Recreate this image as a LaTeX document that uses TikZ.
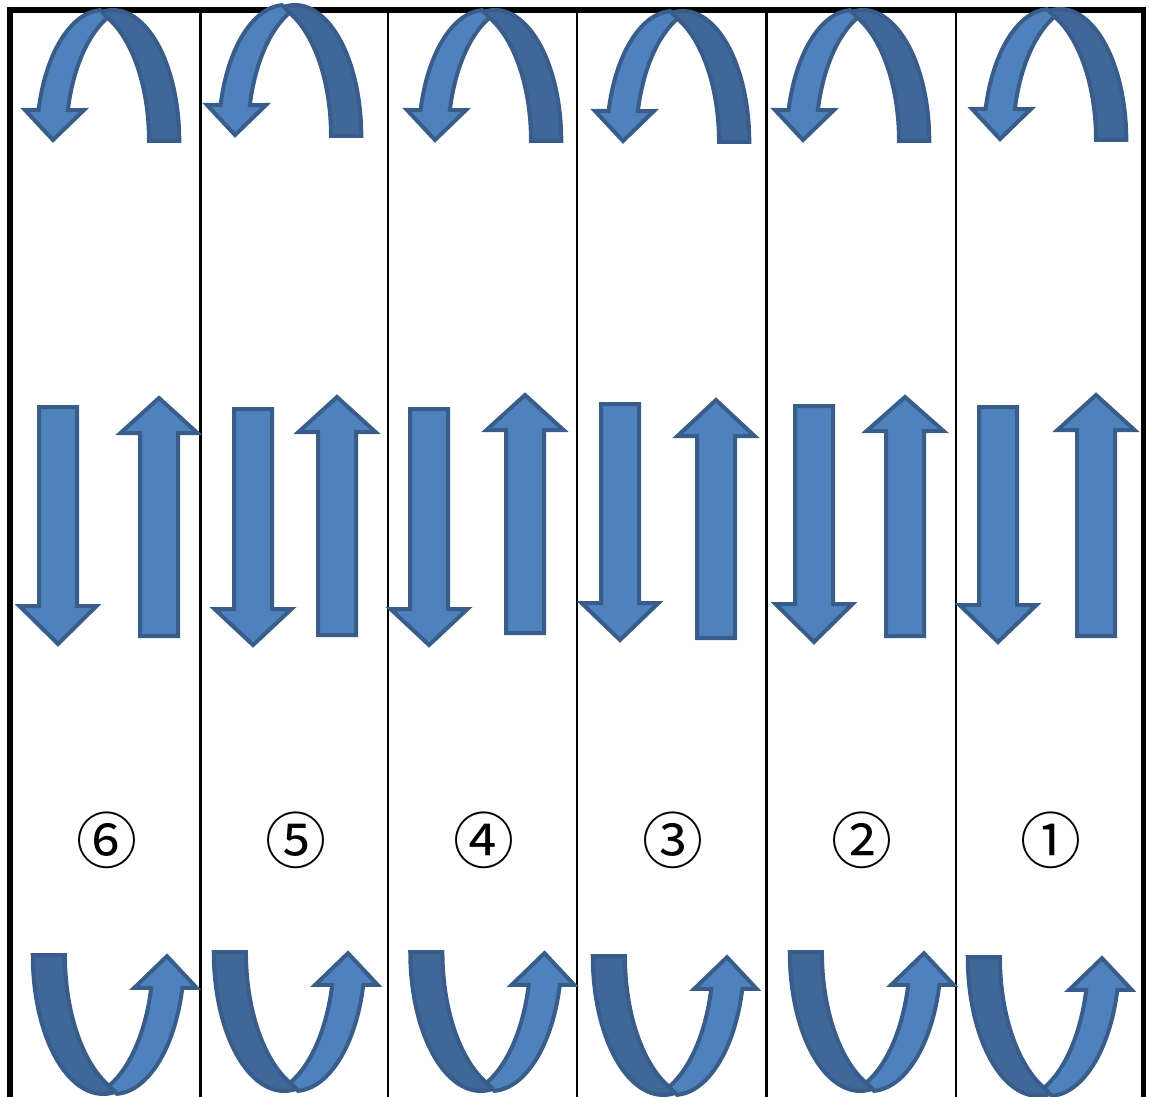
\documentclass[tikz,border=0pt]{standalone}
\usepackage{fontspec}
\newfontfamily\cjk{Noto Sans CJK JP}
\definecolor{lightblue}{HTML}{4F81BD}
\definecolor{darkblue}{HTML}{3F6797}
\definecolor{edgeblue}{HTML}{385D8A}
\tikzset{
  frameline/.style={line width=5.5, black},
  colline/.style={line width=2.2, black},
  straightarrow/.style={fill=lightblue, draw=edgeblue, line width=4, line join=miter},
  lightband/.style={fill=lightblue, draw=edgeblue, line width=4, line join=miter},
  darkband/.style={fill=darkblue, draw=edgeblue, line width=4, line join=miter},
  num/.style={font=\cjk\fontsize{61}{61}\selectfont, inner sep=0pt, text=black},
  topturn/.pic={
    % back (dark) band: outer ellipse B, inner ellipse B'
    \filldraw[darkband] ([shift={(60,2)}]0:66.3 and 131)
      arc[start angle=0, end angle=101.3, x radius=66.3, y radius=131]
      -- ([shift={(26,2)}]65.98:70 and 135)
      arc[start angle=65.98, end angle=0, x radius=70, y radius=135] -- cycle;
    % front (light) band with head: outer ellipse A, inner ellipse A'
    \filldraw[lightband] (-28,33) -- ([shift={(50,2)}]166.31:66.3 and 131)
      arc[start angle=166.31, end angle=92.6, x radius=66.3, y radius=131]
      -- ([shift={(83,2)}]114.02:70 and 135)
      arc[start angle=114.02, end angle=166.73, x radius=70, y radius=135]
      -- (31,33) -- (0,3) -- cycle;
  }
}
% cx, top, base, tip  (pixel coordinates, y downwards)
\newcommand\DownArr[4]{%
  \filldraw[straightarrow] (#1-19,-#2-2) -- (#1+19,-#2-2) -- (#1+19,-#3-2) -- (#1+38.5,-#3-2)
    -- (#1,-#4+3) -- (#1-38.5,-#3-2) -- (#1-19,-#3-2) -- cycle;}
% cx, tip, base, bottom
\newcommand\UpArr[4]{%
  \filldraw[straightarrow] (#1,-#2-3) -- (#1+38.5,-#3+2) -- (#1+19,-#3+2) -- (#1+19,-#4+2)
    -- (#1-19,-#4+2) -- (#1-19,-#3+2) -- (#1-38.5,-#3+2) -- cycle;}
\begin{document}
\begin{tikzpicture}[x=1pt, y=1pt]
\useasboundingbox (0,0) rectangle (1149,-1097);
% frame
\draw[frameline, line join=miter] (10,-1097) -- (10,-10) -- (1143.5,-10) -- (1143.5,-1097);
\foreach \cx in {200.5,388,577,766.5,956}
  \draw[colline] (\cx,-10) -- (\cx,-1097);
% top U-turn arrows
\pic at (53,-143) {topturn};
\pic at (235,-138) {topturn};
\pic at (435,-143) {topturn};
\pic at (623,-144) {topturn};
\pic at (803,-143) {topturn};
\pic at (1000,-142) {topturn};
% straight arrows
\DownArr{58}{405}{604}{647}   \UpArr{159}{395}{435}{638}
\DownArr{253}{407}{607}{648}  \UpArr{337}{394}{434}{637}
\DownArr{429}{407}{607}{648}  \UpArr{525}{392}{432}{635}
\DownArr{620}{402}{601}{643}  \UpArr{716}{397}{438}{640}
\DownArr{814}{404}{602}{645}  \UpArr{905}{394}{433}{638}
\DownArr{998}{405}{603}{645}  \UpArr{1096}{392}{432}{638}
% numbers
\node[num] (n6) at (106.5,-840) {⑥};
\node[num] (n5) at (295.5,-840) {⑤};
\node[num] (n4) at (484,-840) {④};
\node[num] (n3) at (673,-840) {③};
\node[num] (n2) at (862,-840) {②};
\node[num] (n1) at (1051,-840) {①};
% bottom U-turn arrows
\pic[rotate=180, xscale=1.063, yscale=1.06] at (167,-953) {topturn};
\pic[rotate=180, xscale=1.063, yscale=1.06] at (348,-950) {topturn};
\pic[rotate=180, xscale=1.063, yscale=1.06] at (544.5,-950) {topturn};
\pic[rotate=180, xscale=1.063, yscale=1.06] at (727,-954) {topturn};
\pic[rotate=180, xscale=1.063, yscale=1.06] at (924,-950) {topturn};
\pic[rotate=180, xscale=1.063, yscale=1.06] at (1102,-955) {topturn};
\end{tikzpicture}
\end{document}
